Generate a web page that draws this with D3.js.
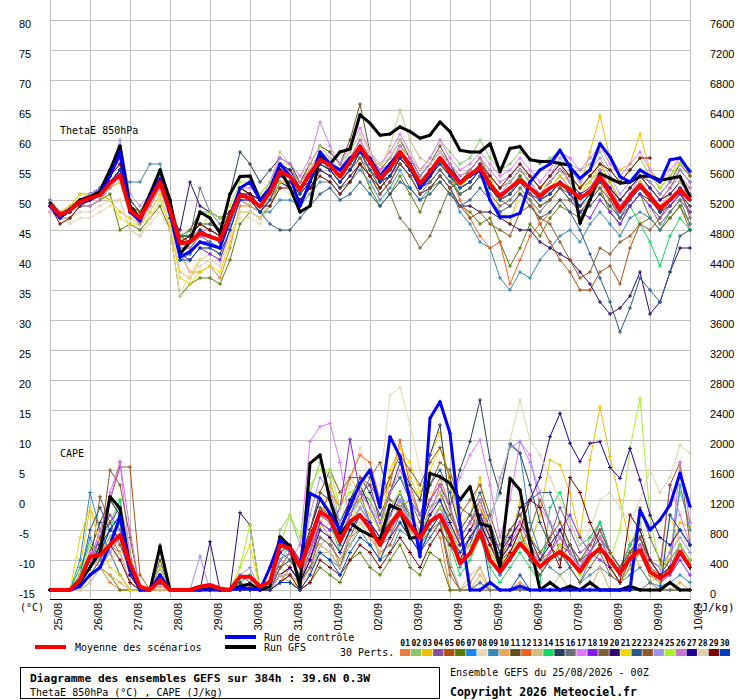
<!DOCTYPE html>
<html><head><meta charset="utf-8">
<script src="https://cdn.jsdelivr.net/npm/d3@7"></script>
<style>body{margin:0;background:#fff}svg{display:block}</style>
</head><body><svg id="c" width="740" height="700"></svg>
<script>
const dates = ["25/08","26/08","27/08","28/08","29/08","30/08","31/08","01/09","02/09","03/09","04/09","05/09","06/09","07/09","08/09","09/09","10/09"];
const thetaTicks = [-15,-10,-5,0,5,10,15,20,25,30,35,40,45,50,55,60,65,70,75,80];
const capeTicks = [0,400,800,1200,1600,2000,2400,2800,3200,3600,4000,4400,4800,5200,5600,6000,6400,6800,7200,7600];
const memberIds = ["01","02","03","04","05","06","07","08","09","10","11","12","13","14","15","16","17","18","19","20","21","22","23","24","25","26","27","28","29","30"];
const memberColors = ["#e8803a","#88c868","#f0c000","#8850a8","#b05010","#588000","#1888f0","#e8d8b0","#3888b8","#e8a858","#685020","#f06020","#d0c080","#10d860","#284058","#687078","#e078f8","#8020f0","#806030","#300870","#f0d800","#285890","#905828","#a090f0","#a8f030","#d070d0","#200098","#e0d0b0","#800000","#0040c0"];

// ThetaE 850hPa (°C), every 6h from 25/08 00Z
const thetaMean = [49.2,47.5,48.3,49.7, 50.3,50.8,52.8,54.2, 48.3,47,50,53, 48.3,42.8,43,44.5, 43.9,43.3,47.2,50.8, 50.3,48.9,51.3,54.7, 53.9,51.7,54.4,56.7, 55.8,53.9,56.4,58.9, 56.4,53.6,55.3,58, 55.8,52.8,54.7,57, 54.7,52.8,54.2,55.4, 52.6,50.6,52,53.3, 52,50.6,52,52.8, 51.7,50.3,51.4,53.9, 51.1,48.3,50.6,52.5, 50.6,48.6,50,51.7, 50];
const thetaControl = [49,47,48.5,49.5, 50,51,54,58, 48,46.5,50.5,53.5, 48,40.5,41.4,43, 42.5,42,47,52, 53,50,52,56, 54,49,53,58, 56,55,57,58, 57,54,56,58, 56,52,54,57, 55,53,54,55, 50,47.2,47.2,47.8, 53,55,56,58.3, 55.5,53.6,55,59.4, 57.2,53.9,53,55, 54,53,56.7,57, 54.7];
const thetaGFS = [49.5,47.5,48.5,50, 50.5,51.5,55,59, 49,47,51,55, 50,41,43,48, 47,44.5,51,53.9, 54,50,51.7,55, 52,48,49,57.5, 56,58,58.5,64.2, 62.8,60.8,61,62.2, 61.4,60.3,60.8,63, 61.4,58.3,58,58, 59.4,54.7,58.6,58.9, 56.7,56.4,56.4,56.1, 55.8,46.1,50,54.4, 53.6,52.8,53,53.9, 54,53.3,53.6,53.9, 50.6];
const t01 = [49,48,48,50, 50,51,52,54, 48,47,50,52, 47,41,38,38, 39,37,42,49, 49,48,50,54, 53,51,53,56, 55,53,55,58, 56,53,54,57, 55,52,54,56, 54,52,53,55, 52,50,51,53, 51,50,51,53, 51,49,50,53, 50,47,50,52, 50,48,49,51, 49];
const t02 = [50,48,49,51, 51,52,54,56, 49,48,51,54, 48,44,44,45, 45,44,48,52, 51,50,52,56, 55,53,56,59, 58,56,58,61, 58,56,57,60, 58,55,57,60, 58,56,57,60, 57,55,56,58, 57,56,57,58, 56,55,56,58, 55,53,55,57, 54,52,54,56, 55];
const t03 = [50,48,49,50, 51,51,50,48, 47,46,48,51, 45,38,37,40, 41,40,45,50, 49,48,51,56, 56,52,53,57, 55,53,57,60, 57,55,56,59, 57,54,56,58, 55,52,55,57, 54,48,46,52, 54,52,53,55, 54,52,58,64, 57,55,56,61, 55,52,54,57, 54];
const t04 = [49,47,48,50, 51,52,55,57, 49,47,51,55, 49,43,42,44, 43,42,47,52, 51,50,52,55, 55,53,55,58, 56,54,57,60, 57,54,56,59, 57,54,56,58, 56,53,55,57, 53,51,52,54, 52,51,53,55, 53,50,52,55, 52,49,51,53, 51,49,50,52, 51];
const t05 = [49,48,48,50, 50,51,53,54, 48,47,50,53, 48,44,43,45, 44,43,47,51, 50,49,51,54, 54,52,54,57, 56,54,56,58, 55,53,55,58, 55,52,54,56, 54,52,53,55, 52,50,49,51, 50,46,43,40, 38,35,35,38, 39,36,42,46, 47,45,47,49, 45];
const t06 = [49,47,47,49, 49,50,51,45, 46,45,47,49, 45,34,36,37, 37,36,40,46, 48,47,49,53, 52,50,52,55, 54,52,53,56, 52,49,51,54, 51,48,52,53, 51,49,48,46, 47,43,39,42, 46,44,47,49, 48,47,50,52, 48,46,49,51, 47,45,47,49, 46];
const t07 = [49,47,48,50, 50,51,53,55, 48,47,50,53, 47,41,41,43, 43,42,46,51, 51,49,51,55, 54,52,54,57, 55,53,55,58, 55,53,54,57, 55,52,54,56, 54,52,53,55, 52,50,51,54, 52,50,52,54, 52,49,51,54, 51,47,50,52, 51,48,50,52, 50];
const t08 = [48,47,46,47, 47,48,49,50, 45,44,46,48, 45,34,38,40, 41,40,44,47, 47,46,49,52, 51,49,52,55, 54,52,54,57, 54,52,54,57, 55,52,54,56, 53,51,52,54, 51,48,47,50, 50,47,49,52, 51,48,50,54, 49,45,43,47, 48,46,48,50, 48];
const t09 = [50,48,48,50, 50,51,52,53, 53,53,56,56, 50,40,41,43, 43,42,46,50, 49,48,48,50, 50,49,51,53, 53,51,53,55, 53,50,52,55, 52,50,52,54, 52,48,46,43, 42,37,35,38, 37,40,42,44, 45,43,46,48, 46,44,47,48, 47,45,48,50, 46];
const t10 = [49,47,48,50, 50,51,52,53, 48,47,49,52, 47,41,40,42, 42,41,45,50, 49,48,50,53, 53,51,53,56, 55,53,55,58, 55,53,54,57, 55,52,54,56, 54,52,53,55, 53,51,52,54, 52,51,52,54, 52,50,52,54, 52,49,51,53, 51,49,51,53, 51];
const t11 = [49,47,48,50, 50,51,54,57, 50,48,51,54, 49,44,44,46, 45,44,48,52, 51,50,52,56, 55,53,56,59, 58,56,60,66, 58,55,57,60, 57,54,56,59, 56,53,55,57, 54,52,53,55, 53,51,53,55, 54,52,54,56, 53,50,52,54, 53,51,53,56, 54];
const t12 = [49,48,48,50, 51,52,53,54, 48,47,50,53, 48,43,43,45, 44,43,47,51, 51,49,51,54, 54,52,54,57, 55,53,56,58, 55,53,55,57, 55,52,54,56, 54,50,47,44, 42,43,36,40, 44,46,48,50, 50,48,50,52, 50,48,50,52, 50,48,50,52, 50];
const t13 = [49,47,48,50, 50,51,53,55, 49,47,50,53, 48,43,43,44, 44,43,47,51, 51,50,53,58, 56,54,56,59, 57,54,56,59, 58,55,59,65, 60,57,56,58, 56,54,55,57, 54,52,53,55, 54,52,54,56, 54,52,53,55, 52,49,51,53, 52,50,51,53, 52];
const t14 = [49,47,48,50, 50,51,53,55, 48,47,51,53, 48,43,45,48, 48,47,48,51, 50,49,51,55, 54,52,54,57, 55,53,55,58, 55,52,54,57, 55,52,54,56, 54,51,52,54, 52,50,52,54, 52,50,51,53, 52,50,52,54, 52,50,49,46, 43,39,44,47, 45];
const t15 = [50,48,48,50, 51,52,55,57, 50,48,51,54, 49,44,44,46, 46,45,51,58, 56,53,55,57, 56,53,55,58, 56,54,56,58, 55,53,54,57, 55,52,53,55, 53,51,52,54, 52,50,51,53, 51,49,50,52, 50,48,49,51, 49,47,49,51, 50,48,49,51, 49];
const t16 = [49,47,48,50, 50,51,53,54, 49,48,51,54, 48,43,44,52, 48,46,48,52, 51,49,51,55, 54,52,54,57, 55,53,55,57, 55,52,54,56, 54,51,53,55, 53,51,52,54, 51,49,50,52, 50,48,50,52, 50,48,50,52, 50,47,49,51, 49,46,48,50, 48];
const t17 = [48,47,48,50, 51,52,54,56, 49,47,50,53, 48,43,43,45, 45,44,48,52, 52,51,53,57, 56,54,57,63, 59,56,59,62, 58,56,58,61, 58,55,57,60, 57,55,56,58, 56,54,55,57, 55,53,55,58, 57,55,57,59, 56,54,56,58, 55,53,55,57, 55];
const t18 = [49,47,48,50, 51,52,54,57, 49,47,50,53, 48,41,40,42, 41,40,45,50, 50,49,51,55, 54,52,54,57, 56,54,56,59, 56,53,55,58, 56,53,55,57, 54,52,53,55, 53,51,52,53, 51,50,51,53, 51,48,47,50, 48,46,49,51, 49,47,49,51, 48];
const t19 = [49,48,48,50, 50,51,53,55, 50,48,51,55, 50,44,45,48, 47,45,48,52, 51,50,52,56, 55,53,55,58, 56,54,56,59, 57,54,51,47, 45,42,44,48, 52,53,54,55, 53,51,52,54, 51,49,50,52, 51,49,51,54, 52,50,52,54, 52,50,52,55, 53];
const t20 = [49,47,48,50, 50,51,53,55, 48,47,50,53, 47,45,53,49, 48,47,48,51, 50,48,50,53, 52,50,52,55, 54,52,54,56, 54,51,53,56, 54,51,52,54, 52,49,49,48, 48,47,46,45, 45,43,42,41, 40,38,36,33, 31,32,34,38, 31,33,38,42, 42];
const t21 = [50,48,49,51, 51,51,50,47, 46,46,47,50, 46,37,36,38, 39,38,43,48, 48,47,50,53, 53,51,53,56, 55,53,55,58, 55,53,55,58, 56,53,55,57, 55,52,54,56, 54,50,51,53, 52,51,52,54, 53,51,53,56, 53,50,52,54, 52,50,51,53, 51];
const t22 = [49,47,48,50, 50,51,53,55, 49,47,50,53, 47,42,42,44, 44,43,47,51, 50,48,46,45, 45,47,49,51, 52,50,51,53, 51,49,51,53, 52,50,51,53, 51,49,50,52, 50,48,49,51, 49,47,48,50, 48,45,41,37, 33,28,32,37, 35,33,38,44, 45];
const t23 = [49,47,48,50, 50,51,53,55, 49,48,51,54, 49,43,44,46, 45,44,47,51, 50,49,51,54, 53,51,53,56, 55,53,55,57, 54,51,53,56, 54,51,52,54, 52,49,47,48, 46,45,44,48, 49,47,46,43, 40,37,38,42, 41,43,44,46, 45,47,50,52, 47];
const t24 = [50,48,48,50, 51,52,55,60, 51,49,51,54, 48,42,42,44, 44,43,47,51, 51,49,51,55, 54,52,55,58, 57,55,57,60, 57,55,56,59, 57,54,56,58, 55,53,54,56, 53,51,53,55, 54,52,54,57, 55,53,55,57, 54,51,53,55, 53,51,53,55, 53];
const t25 = [49,47,48,50, 50,51,52,53, 48,47,50,52, 48,42,42,45, 48,47,49,53, 53,51,53,56, 55,53,55,58, 57,55,57,60, 57,54,56,59, 56,53,55,57, 55,53,54,56, 54,52,53,55, 54,52,54,56, 54,52,53,56, 55,53,55,57, 54,52,54,56, 55];
const t26 = [48,47,47,49, 49,50,52,54, 48,46,49,52, 47,42,42,44, 44,43,47,51, 50,49,51,55, 55,53,55,58, 57,55,57,60, 57,55,56,59, 57,55,56,58, 56,54,55,57, 55,53,54,56, 54,52,54,56, 53,50,52,55, 52,49,51,54, 52,50,52,54, 52];
const t27 = [49,47,48,50, 50,51,53,55, 49,47,50,53, 48,43,43,45, 44,43,47,51, 51,50,52,56, 55,52,53,56, 55,53,55,58, 56,53,55,58, 56,53,55,57, 55,53,54,56, 54,52,53,55, 53,51,53,55, 53,51,52,54, 52,50,52,54, 52,50,51,53, 51];
const t28 = [48,47,47,48, 48,49,50,50, 45,44,47,50, 47,38,37,39, 40,39,44,48, 48,47,50,54, 54,52,55,58, 57,55,58,61, 58,56,57,60, 58,55,56,58, 55,53,54,56, 54,52,53,55, 53,51,53,55, 53,50,52,54, 51,48,50,52, 51,49,50,53, 51];
const t29 = [49,46,47,49, 50,51,54,56, 49,47,50,53, 48,43,44,46, 45,44,48,52, 51,49,49,52, 52,50,52,54, 53,51,53,56, 54,52,54,57, 55,53,55,57, 55,53,54,56, 54,52,54,56, 54,52,54,56, 54,52,54,56, 55,53,55,57, 57];
const t30 = [49,47,48,50, 50,51,53,55, 48,47,50,53, 47,40,40,42, 42,41,45,50, 50,48,50,54, 53,51,53,56, 55,53,55,58, 55,53,54,57, 55,52,54,56, 54,52,53,55, 52,50,51,53, 52,50,51,53, 51,49,51,53, 51,48,50,52, 51,48,50,52, 50];

// CAPE (J/kg), every 6h from 25/08 00Z
const capeMean = [0,0,0,133, 444,467,600,733, 356,44,0,133, 0,0,0,44, 67,20,0,178, 178,44,111,600, 556,311,667,1044, 956,644,911,1000, 822,600,867,1044, 867,689,911,1000, 733,356,489,778, 400,244,422,622, 467,311,422,511, 400,244,444,556, 400,222,422,533, 244,156,244,511, 311];
const capeControl = [0,0,0,50, 200,300,600,978, 300,0,0,200, 0,0,0,0, 0,0,0,30, 20,0,300,667, 533,311,1289,1222, 1022,800,1111,1422, 1600,1100,2044,1778, 1200,444,2289,2511, 2089,889,0,0, 100,0,0,50, 0,0,0,0, 0,0,0,0, 0,0,0,1067, 800,933,1133,1556, 1111];
const capeGFS = [0,0,0,100, 300,500,1244,1089, 300,0,0,578, 0,0,0,0, 20,0,0,50, 80,0,50,711, 578,44,1689,1800, 1200,756,900,800, 733,667,1133,1067, 689,711,1556,1511, 1422,1200,1378,889, 844,300,1489,1333, 622,0,100,0, 50,0,100,0, 0,0,50,0, 0,0,100,0, 0];
const c01 = [0,0,0,200, 500,300,100,0, 0,0,0,50, 0,0,0,0, 0,0,0,100, 50,0,0,400, 300,100,200,900, 700,300,800,1100, 900,400,700,1200, 800,600,900,700, 0,0,100,300, 0,0,0,100, 0,0,0,0, 0,0,100,0, 0,0,0,0, 0,0,0,0, 0];
const c02 = [0,0,0,100, 400,600,900,1200, 500,0,0,100, 0,0,0,0, 0,0,0,0, 0,0,0,800, 1000,600,1300,1700, 1500,900,1200,1400, 1100,800,1300,1500, 1300,1000,1200,1400, 900,400,600,1000, 600,400,700,900, 700,500,600,800, 600,300,700,900, 500,200,600,900, 400,300,500,1300, 900];
const c03 = [0,0,0,300, 1100,800,500,200, 0,0,0,0, 0,0,0,0, 0,0,0,0, 0,0,0,300, 200,50,400,800, 1400,1100,1500,1300, 1100,800,1600,1900, 1500,1200,1800,2100, 1400,800,1000,1500, 700,300,600,1200, 600,1000,1733,1667, 1289,711,1733,2444, 1778,1200,600,300, 100,200,500,900, 844];
const c04 = [0,0,0,100, 300,700,1000,800, 200,0,0,300, 0,0,0,0, 0,0,0,200, 100,0,0,500, 400,200,500,900, 800,700,1000,1300, 900,600,700,1000, 800,700,900,1100, 900,500,600,1000, 400,200,400,600, 500,400,700,1100, 800,500,600,900, 500,300,600,800, 400,200,300,600, 300];
const c05 = [0,0,0,0, 200,400,1200,1640, 1640,200,0,0, 0,0,0,0, 0,0,0,0, 0,0,0,100, 300,100,400,700, 600,400,700,800, 700,500,600,900, 700,500,800,900, 200,0,0,0, 0,0,0,0, 0,0,0,0, 0,0,0,0, 0,0,0,0, 0,0,0,0, 0];
const c06 = [0,0,0,0, 100,300,200,0, 0,0,0,0, 0,0,0,0, 0,0,0,0, 0,0,0,200, 100,0,100,300, 200,100,400,500, 300,200,400,600, 300,200,500,400, 0,0,0,100, 0,0,0,0, 0,0,0,0, 0,0,0,0, 0,0,0,0, 0,0,0,0, 0];
const c07 = [0,0,0,200, 700,400,600,900, 300,0,0,100, 0,0,0,0, 0,0,0,100, 200,0,100,600, 500,300,800,1200, 1000,700,1000,1200, 900,600,1000,1300, 900,700,1100,1200, 800,300,500,900, 400,200,500,700, 400,200,400,600, 300,100,400,600, 300,100,300,500, 200,100,300,1400, 800];
const c08 = [0,0,0,0, 200,300,500,700, 200,0,0,0, 0,0,0,0, 0,0,0,0, 0,0,0,300, 200,100,300,900, 1100,900,1400,1900, 1500,1400,2600,2700, 2200,1600,1300,1200, 900,500,700,1200, 700,400,800,1000, 600,400,500,700, 400,200,500,800, 300,200,400,700, 300,200,400,800, 500];
const c09 = [0,0,0,400, 1300,800,500,200, 0,0,0,0, 0,0,0,0, 0,0,0,0, 0,0,0,100, 200,100,300,500, 400,300,600,800, 600,400,500,800, 700,500,700,900, 700,400,500,700, 1000,1300,1933,1822, 900,500,300,200, 300,100,200,300, 200,100,200,300, 100,50,100,200, 100];
const c10 = [0,0,0,200, 400,300,200,100, 0,0,0,0, 0,0,0,0, 0,0,0,0, 0,0,0,200, 100,50,300,600, 700,500,800,1000, 900,700,900,1100, 800,600,800,1000, 300,0,0,200, 0,0,0,100, 0,0,0,0, 0,0,0,300, 0,0,0,0, 0,0,0,100, 0];
const c11 = [0,0,0,100, 300,600,1200,1000, 300,0,0,400, 0,0,0,0, 0,0,0,0, 0,0,0,100, 100,0,200,600, 500,300,700,1000, 900,600,1000,1200, 1000,700,1100,1300, 1000,700,900,1100, 800,400,500,800, 400,200,400,600, 500,300,400,600, 300,100,400,600, 300,200,300,500, 300];
const c12 = [0,0,0,100, 300,500,700,500, 100,0,0,0, 0,0,0,0, 0,0,0,0, 0,0,0,300, 400,200,500,1000, 1300,1100,1500,1800, 1700,1200,1400,2000, 1400,1000,1200,1500, 1100,600,800,1100, 700,400,700,900, 600,400,500,700, 500,300,500,700, 400,200,500,700, 300,200,300,500, 300];
const c13 = [0,0,0,100, 200,300,400,600, 200,0,0,100, 0,0,0,0, 0,0,0,0, 0,0,0,200, 300,100,200,500, 500,300,600,900, 700,500,1000,1200, 900,700,1100,1300, 400,0,200,300, 0,0,0,0, 0,0,0,200, 0,0,0,0, 0,0,0,0, 0,0,0,0, 0];
const c14 = [0,0,0,300, 600,500,800,1200, 200,0,0,200, 0,0,0,0, 0,0,0,100, 200,0,0,400, 600,300,700,1100, 900,500,800,1100, 900,700,1000,1200, 900,600,800,1000, 600,200,400,700, 300,100,300,500, 300,100,1100,1300, 900,600,700,900, 500,300,600,800, 400,200,300,500, 300];
const c15 = [0,0,0,200, 500,900,1200,1000, 400,0,0,600, 0,0,0,0, 0,0,0,100, 0,0,0,400, 500,300,800,1300, 1200,900,1200,1500, 1300,1000,1300,1700, 1400,1200,1800,2200, 1100,1600,1978,2533, 1733,1289,1956,1822, 1400,900,600,400, 600,300,500,800, 500,300,500,700, 400,200,400,600, 400];
const c16 = [0,0,0,100, 200,400,600,500, 100,0,0,200, 0,0,0,0, 0,0,0,0, 0,0,0,200, 200,100,300,700, 600,400,700,1000, 800,600,800,1000, 700,500,700,900, 300,0,0,100, 0,0,0,0, 0,0,100,0, 0,0,0,0, 0,0,0,0, 100,0,0,0, 0];
const c17 = [0,0,0,200, 500,700,1300,1700, 400,0,0,100, 0,0,0,0, 0,0,0,0, 0,0,0,300, 400,600,1978,2178, 2222,1700,900,1100, 900,700,1000,1200, 900,700,1000,1400, 1100,1500,1800,2000, 1400,700,1200,1978, 1800,1100,900,700, 500,300,600,800, 500,300,500,700, 400,200,1400,1000, 600];
const c18 = [0,0,0,100, 400,700,900,1100, 300,0,0,200, 0,0,0,0, 0,0,0,0, 0,0,0,200, 300,100,400,900, 800,1100,2011,1300, 1400,900,1100,1300, 1000,700,900,1100, 800,500,700,900, 600,400,600,800, 500,300,500,800, 1000,700,500,400, 300,100,300,500, 200,100,200,400, 200];
const c19 = [0,0,0,100, 300,1244,900,600, 300,0,0,100, 0,0,0,0, 0,0,0,0, 0,0,0,200, 300,100,500,1100, 1000,800,1100,1200, 1500,1700,1200,1100, 1200,900,1400,1700, 1600,1100,1000,800, 500,300,400,600, 800,1200,900,500, 300,100,300,500, 200,100,300,1100, 700,400,300,500, 300];
const c20 = [0,0,0,100, 300,500,700,900, 200,0,0,300, 0,0,0,0, 644,0,0,1030, 867,0,100,500, 600,400,800,1200, 1000,800,1200,1400, 1100,800,1000,1300, 1000,800,1200,1400, 1100,700,900,1200, 800,500,700,900, 700,400,600,800, 500,300,500,700, 400,200,400,600, 400,200,300,500, 300];
const c21 = [0,0,0,700, 1100,600,300,200, 0,0,0,100, 0,0,0,0, 0,0,0,300, 600,0,0,300, 400,200,600,1000, 900,600,900,1200, 1000,800,1500,1900, 1700,1300,1600,1900, 1500,900,1000,1200, 700,300,500,800, 500,300,400,600, 400,200,400,600, 300,100,300,500, 200,100,1000,600, 400];
const c22 = [0,0,0,200, 800,1100,800,1000, 400,0,0,100, 0,0,0,0, 0,0,0,0, 0,0,0,300, 400,200,600,1000, 900,600,1000,1300, 1200,900,1300,1500, 1200,1000,1400,1600, 1300,800,1000,1300, 900,500,800,1000, 1200,1300,1300,900, 600,400,500,700, 500,300,500,700, 400,300,400,600, 400];
const c23 = [0,0,0,100, 300,600,1600,1400, 700,0,0,200, 0,0,0,0, 0,0,0,0, 0,0,0,300, 500,300,800,1300, 1600,1300,1500,1500, 1400,1200,1500,1800, 1600,1400,1700,1900, 1500,1000,1200,1400, 1000,600,800,1000, 700,500,700,900, 600,400,600,800, 500,300,500,700, 400,300,1400,1700, 600];
const c24 = [0,0,0,100, 400,300,500,700, 200,0,0,300, 0,0,0,450, 0,0,0,200, 300,0,0,400, 500,300,1000,1500, 1300,900,1100,1300, 1100,800,1000,1200, 900,700,900,1100, 800,500,700,1000, 800,1500,1900,1978, 1700,1300,900,700, 500,300,500,700, 400,200,400,600, 400,300,500,700, 500];
const c25 = [0,0,0,200, 600,500,700,900, 300,0,0,300, 0,0,0,0, 0,0,0,300, 870,0,0,600, 1000,700,1400,1600, 1600,1100,1300,1400, 1200,900,1100,1300, 1000,800,1000,1100, 900,500,600,800, 500,300,500,700, 500,300,400,600, 400,200,400,600, 400,800,1889,2556, 978,300,400,600, 400];
const c26 = [0,0,0,100, 400,800,1200,1711, 800,0,0,100, 0,0,0,0, 0,0,0,0, 0,0,0,200, 300,100,500,1000, 900,700,1000,1300, 1100,900,1300,1600, 1300,1000,1200,1400, 1100,700,900,1200, 800,400,600,900, 600,300,500,700, 500,300,500,700, 400,200,400,600, 400,200,300,1700, 900];
const c27 = [0,0,0,100, 300,600,800,700, 200,0,0,100, 0,0,0,0, 0,0,0,0, 0,0,0,200, 300,100,400,800, 700,500,800,1000, 900,700,900,1100, 900,700,1000,1200, 900,600,800,1000, 700,400,600,1100, 1200,1500,2044,2356, 1956,1711,1956,1978, 1633,1489,1889,1467, 1000,700,600,800, 600];
const c28 = [0,0,0,0, 100,300,400,500, 100,0,0,0, 0,0,0,0, 0,0,0,0, 0,0,0,200, 200,100,200,600, 500,400,700,900, 800,600,900,1100, 900,700,900,1000, 800,500,700,1100, 900,1400,2000,2533, 2000,1800,1500,1200, 900,600,800,1200, 1300,1100,900,1200, 1600,1300,1500,1933, 1822];
const c29 = [0,0,0,100, 300,500,600,400, 100,0,0,200, 0,0,0,0, 0,0,0,0, 0,0,0,100, 200,0,100,400, 300,200,400,600, 500,300,500,700, 500,300,600,800, 600,400,700,900, 600,300,500,800, 1200,1100,600,300, 1500,1300,900,600, 300,100,1000,800, 400,200,300,500, 300];
const c30 = [0,0,0,100, 300,500,800,1000, 300,0,0,100, 0,0,0,0, 0,0,0,0, 0,0,0,100, 100,0,200,500, 400,200,500,700, 600,400,700,900, 700,500,800,1000, 700,500,700,900, 100,0,0,200, 0,0,0,0, 0,0,100,0, 0,0,0,0, 0,0,1000,800, 600];

const thetaPerts = [t01,t02,t03,t04,t05,t06,t07,t08,t09,t10,t11,t12,t13,t14,t15,t16,t17,t18,t19,t20,t21,t22,t23,t24,t25,t26,t27,t28,t29,t30];
const capePerts = [c01,c02,c03,c04,c05,c06,c07,c08,c09,c10,c11,c12,c13,c14,c15,c16,c17,c18,c19,c20,c21,c22,c23,c24,c25,c26,c27,c28,c29,c30];

const svg = d3.select("#c");
const MONO = "'DejaVu Sans Mono', monospace";
const SANS = "'Liberation Sans', Arial, sans-serif";
const x = d3.scaleLinear().domain([0, 384]).range([50, 690]);
const yT = d3.scaleLinear().domain([-15, 80]).range([590, 20]);
const yC = d3.scaleLinear().domain([0, 7600]).range([590, 20]);
const dayHours = dates.map((d, i) => i * 24);

svg.append("rect").attr("width", 740).attr("height", 700).attr("fill", "#fff");

// grid
const grid = svg.append("g").attr("stroke", "#c0c0c0").attr("stroke-width", 1).attr("shape-rendering", "crispEdges");
grid.selectAll(".v").data(dayHours).join("line")
  .attr("x1", d => x(d)).attr("x2", d => x(d)).attr("y1", 0).attr("y2", 600);
grid.selectAll(".h").data(thetaTicks).join("line")
  .attr("x1", x(0)).attr("x2", x(384)).attr("y1", d => yT(d)).attr("y2", d => yT(d));
svg.append("line").attr("x1", x(0)).attr("x2", x(384)).attr("y1", 599.5).attr("y2", 599.5)
  .attr("stroke", "#000").attr("stroke-width", 1.2);

// axes
const gL = svg.append("g").attr("transform", "translate(50,0)")
  .call(d3.axisLeft(yT).tickValues(thetaTicks).tickSize(0).tickFormat(d => String(d)));
gL.select(".domain").remove();
gL.selectAll("text").attr("x", 19 - 50).attr("dy", 7.5).attr("text-anchor", "start")
  .attr("font-family", SANS).attr("font-size", 11).attr("fill", "#000");

const gR = svg.append("g").attr("transform", "translate(690,0)")
  .call(d3.axisRight(yC).tickValues(capeTicks).tickSize(0).tickFormat(d => String(d)));
gR.select(".domain").remove();
gR.selectAll("text").attr("x", 20).attr("dy", 7.5).attr("text-anchor", "start")
  .attr("font-family", SANS).attr("font-size", 11).attr("fill", "#000");

const gB = svg.append("g").attr("transform", "translate(0,603)")
  .call(d3.axisBottom(x).tickValues(dayHours).tickSize(0).tickFormat((d, i) => dates[i]));
gB.select(".domain").remove();
gB.selectAll("text").attr("transform", "rotate(-90)").attr("x", 0).attr("y", 0).attr("dy", 11.5)
  .attr("text-anchor", "end").attr("font-family", SANS).attr("font-size", 11).attr("fill", "#000");

svg.append("text").attr("x", 20).attr("y", 611).text("(°C)").attr("font-family", MONO).attr("font-size", 10);
svg.append("text").attr("x", 695).attr("y", 611).text("(J/kg)").attr("font-family", MONO).attr("font-size", 11);
svg.append("text").attr("x", 60).attr("y", 134).text("ThetaE 850hPa").attr("font-family", MONO).attr("font-size", 10);
svg.append("text").attr("x", 60).attr("y", 457).text("CAPE").attr("font-family", MONO).attr("font-size", 10);

// series drawing
function drawSeries(data, y, color, width, markSize) {
  const line = d3.line().x((d, i) => x(i * 6)).y(d => y(d));
  svg.append("path").attr("d", line(data)).attr("fill", "none")
    .attr("stroke", color).attr("stroke-width", width).attr("stroke-linejoin", "round");
  if (markSize > 0) {
    const m = data.map((d, i) => {
      const px = x(i * 6), py = y(d);
      return `M${px - markSize},${py}h${2 * markSize}M${px},${py - markSize}v${2 * markSize}`;
    }).join("");
    svg.append("path").attr("d", m).attr("fill", "none").attr("stroke", color).attr("stroke-width", 1);
  }
}
thetaPerts.forEach((s, k) => drawSeries(s, yT, memberColors[k], 1, 2));
capePerts.forEach((s, k) => drawSeries(s, yC, memberColors[k], 1, 2));
drawSeries(thetaGFS, yT, "#000000", 3, 2);
drawSeries(capeGFS, yC, "#000000", 3, 2);
drawSeries(thetaControl, yT, "#0000ff", 3, 2);
drawSeries(capeControl, yC, "#0000ff", 3, 2);
drawSeries(thetaMean, yT, "#ff0000", 4, 0);
drawSeries(capeMean, yC, "#ff0000", 4, 0);

// legend
function legLine(x1, y, color) {
  svg.append("line").attr("x1", x1).attr("x2", x1 + 31).attr("y1", y).attr("y2", y)
    .attr("stroke", color).attr("stroke-width", 4);
}
legLine(35, 647, "#ff0000");
svg.append("text").attr("x", 75).attr("y", 651).text("Moyenne des scénarios").attr("font-family", MONO).attr("font-size", 10);
legLine(225, 637, "#0000ff");
svg.append("text").attr("x", 264).attr("y", 641).text("Run de contrôle").attr("font-family", MONO).attr("font-size", 10);
legLine(225, 647, "#000000");
svg.append("text").attr("x", 264).attr("y", 651).text("Run GFS").attr("font-family", MONO).attr("font-size", 10);
svg.append("text").attr("x", 340).attr("y", 656).text("30 Perts.").attr("font-family", MONO).attr("font-size", 10);

const sw = d3.scaleBand().domain(memberIds).range([400, 730]).paddingInner(0.06);
const gS = svg.append("g");
gS.selectAll("rect").data(memberIds).join("rect")
  .attr("x", d => sw(d)).attr("y", 649).attr("width", sw.bandwidth()).attr("height", 7)
  .attr("fill", (d, i) => memberColors[i]);
gS.selectAll("text").data(memberIds).join("text")
  .attr("x", d => sw(d) + sw.bandwidth() / 2).attr("y", 646).attr("text-anchor", "middle")
  .attr("font-family", MONO).attr("font-size", 8).attr("font-weight", "bold").text(d => d);

// info boxes
svg.append("rect").attr("x", 20.5).attr("y", 667.5).attr("width", 419).attr("height", 31)
  .attr("fill", "none").attr("stroke", "#000").attr("stroke-width", 1);
svg.append("text").attr("x", 30).attr("y", 682).text("Diagramme des ensembles GEFS sur 384h : 39.6N 0.3W")
  .attr("font-family", MONO).attr("font-size", 11.3).attr("font-weight", "bold");
svg.append("text").attr("x", 30).attr("y", 696).text("ThetaE 850hPa (°C) , CAPE (J/kg)")
  .attr("font-family", MONO).attr("font-size", 10);
svg.append("text").attr("x", 450).attr("y", 676).text("Ensemble GEFS du 25/08/2026 - 00Z")
  .attr("font-family", MONO).attr("font-size", 10);
svg.append("text").attr("x", 450).attr("y", 696).text("Copyright 2026 Meteociel.fr")
  .attr("font-family", MONO).attr("font-size", 11.5).attr("font-weight", "bold");
</script></body></html>
